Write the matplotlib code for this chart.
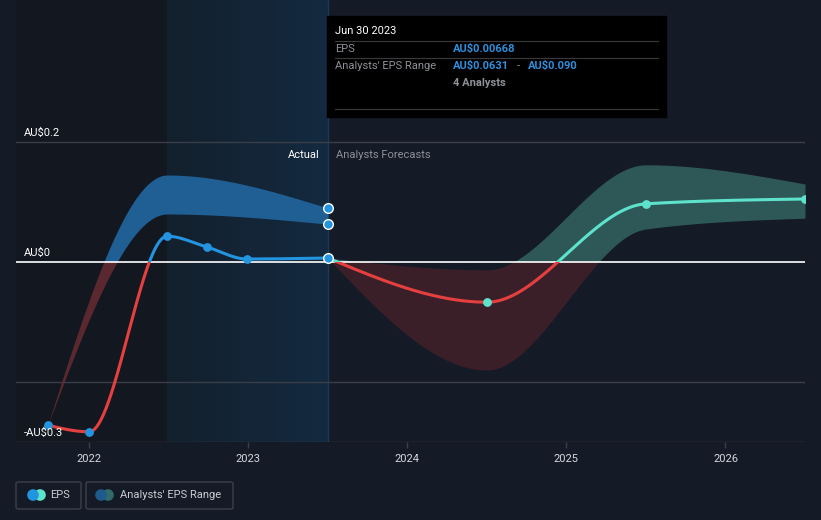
import numpy as np
import matplotlib
matplotlib.use("Agg")
import matplotlib.pyplot as plt
from matplotlib.patches import Rectangle, FancyBboxPatch, Circle

plt.rcParams['font.family'] = ['Roboto', 'DejaVu Sans']

# data (year fractions, AU$ per share)
past_x = [2021.74, 2022.0, 2022.49, 2022.74, 2022.99, 2023.5]
past_eps = [-0.272, -0.283, 0.043, 0.025, 0.005, 0.00668]

past_band_x = [2021.74, 2022.49, 2023.5]
past_band_low = [-0.272, 0.080, 0.0631]
past_band_high = [-0.272, 0.145, 0.090]

fc_x = [2023.5, 2024.5, 2025.5, 2026.5]
fc_eps = [0.00668, -0.067, 0.097, 0.105]
fc_low = [0.00668, -0.180, 0.055, 0.073]
fc_high = [0.00668, -0.013, 0.162, 0.130]

years = [2022, 2023, 2024, 2025, 2026]
ytick_vals = [0.2, 0.0, -0.3]
ytick_labels = ["AU$0.2", "AU$0", "-AU$0.3"]

BG = "#151b26"
BLUE = "#2394df"
RED = "#e5403f"
TEAL = "#5de2cb"
GRID = "#393e48"


def monotone(xs, ys, n=200):
    # d3 curveMonotoneX style hermite
    xs = np.asarray(xs, float)
    ys = np.asarray(ys, float)
    k = len(xs)
    h = np.diff(xs)
    s = np.diff(ys) / h
    m = np.zeros(k)
    for i in range(1, k - 1):
        p = (s[i - 1] * h[i] + s[i] * h[i - 1]) / (h[i - 1] + h[i])
        m[i] = (np.sign(s[i - 1]) + np.sign(s[i])) * min(abs(s[i - 1]), abs(s[i]), 0.5 * abs(p))
    if k > 2:
        m[0] = (3 * s[0] - m[1]) / 2
        m[-1] = (3 * s[-1] - m[-2]) / 2
    else:
        m[0] = m[-1] = s[0]
    out_x, out_y = [], []
    for i in range(k - 1):
        t = np.linspace(0, 1, n)
        h00 = 2 * t**3 - 3 * t**2 + 1
        h10 = t**3 - 2 * t**2 + t
        h01 = -2 * t**3 + 3 * t**2
        h11 = t**3 - t**2
        out_x.append(xs[i] + t * h[i])
        out_y.append(h00 * ys[i] + h10 * h[i] * m[i] + h01 * ys[i + 1] + h11 * h[i] * m[i + 1])
    return np.concatenate(out_x), np.concatenate(out_y)


fig = plt.figure(figsize=(8.21, 5.20), dpi=100, facecolor=BG)
ax = fig.add_axes([16 / 821, 78 / 520, 789 / 821, 442 / 520])
ax.set_facecolor(BG)
x0, x1 = 2021.54, 2026.50
y0, y1 = -0.3, 262 / 600
ax.set_xlim(x0, x1)
ax.set_ylim(y0, y1)
for sp in ax.spines.values():
    sp.set_visible(False)

# past shading
ax.axvspan(x0, 2022.49, color="#121720", zorder=0, lw=0)
grad = np.linspace(0, 1, 256).reshape(1, -1)
from matplotlib.colors import LinearSegmentedColormap
cm = LinearSegmentedColormap.from_list("g", ["#14202d", "#132a40"])
ax.imshow(grad, cmap=cm, aspect="auto", extent=[2022.49, 2023.5, y0, y1], zorder=0.5)
ax.plot([2023.5, 2023.5], [y0, y1], color="#1d3a55", lw=1, zorder=1)

# gridlines
for v in [0.2, -0.2, -0.3]:
    ax.axhline(v, color=GRID, lw=1, zorder=1)
ax.axhline(0, color="white", lw=1.2, zorder=4)

pos_clip = Rectangle((x0, 0), x1 - x0, 1, transform=ax.transData)
neg_clip = Rectangle((x0, -1), x1 - x0, 1, transform=ax.transData)


def clipped(artist, clip):
    artist.set_clip_path(clip)


# bands
bx, bl = monotone(past_band_x, past_band_low)
_, bh = monotone(past_band_x, past_band_high)
a = ax.fill_between(bx, bl, bh, color="#1f5f94", lw=0, zorder=2)
clipped(a, Rectangle((x0, 0), x1 - x0, 1, transform=ax.transData))
a = ax.fill_between(bx, bl, bh, color="#6a2c33", lw=0, zorder=2, alpha=0.85)
clipped(a, Rectangle((x0, -1), x1 - x0, 1, transform=ax.transData))

fx, fl = monotone(fc_x, fc_low)
_, fh = monotone(fc_x, fc_high)
a = ax.fill_between(fx, fl, fh, color="#2e5857", lw=0, zorder=2)
clipped(a, Rectangle((x0, 0), x1 - x0, 1, transform=ax.transData))
a = ax.fill_between(fx, fl, fh, color="#3b1f28", lw=0, zorder=2)
clipped(a, Rectangle((x0, -1), x1 - x0, 1, transform=ax.transData))

# lines
px, py = monotone(past_x, past_eps)
l, = ax.plot(px, py, color=BLUE, lw=2.2, zorder=5, solid_capstyle="round")
clipped(l, Rectangle((x0, 0), x1 - x0, 1, transform=ax.transData))
l, = ax.plot(px, py, color=RED, lw=2.2, zorder=5, solid_capstyle="round")
clipped(l, Rectangle((x0, -1), x1 - x0, 1, transform=ax.transData))

qx, qy = monotone(fc_x, fc_eps)
l, = ax.plot(qx, qy, color=TEAL, lw=2.2, zorder=5, solid_capstyle="round")
clipped(l, Rectangle((x0, 0), x1 - x0, 1, transform=ax.transData))
l, = ax.plot(qx, qy, color=RED, lw=2.2, zorder=5, solid_capstyle="round")
clipped(l, Rectangle((x0, -1), x1 - x0, 1, transform=ax.transData))

# markers
ax.scatter(past_x[:-1], past_eps[:-1], s=40, color=BLUE, zorder=6, lw=0)
ax.scatter(fc_x[1:], fc_eps[1:], s=40, color=TEAL, zorder=6, lw=0)
ax.scatter([past_x[-1]] * 3, [past_eps[-1], past_band_low[-1], past_band_high[-1]],
           s=48, color=BLUE, edgecolor="white", lw=1, zorder=7)

# axes ticks
ax.set_yticks([])
ax.set_xticks(years)
ax.set_xticklabels([str(y) for y in years])
ax.tick_params(axis="x", colors=GRID, length=4, width=1, labelcolor="#d5d8dd", labelsize=8, pad=5)
for v, lab in zip(ytick_vals, ytick_labels):
    ax.text(x0 + 0.05, v + 0.007, lab, color="white", fontsize=8, va="bottom", ha="left", zorder=8)

ax.text(2023.45, 0.178, "Actual", color="white", fontsize=8, ha="right", va="center", zorder=8)
ax.text(2023.55, 0.178, "Analysts Forecasts", color="#8a8f98", fontsize=8, ha="left", va="center", zorder=8)

# tooltip
W, H = 821, 520


def fx_(px_):
    return px_ / W


def fy_(py_):
    return 1 - py_ / H


fig.patches.append(Rectangle((fx_(327), fy_(117)), 339 / W, 101 / H, transform=fig.transFigure,
                             color="black", zorder=10))
for yy in [41, 58, 109]:
    fig.lines.append(plt.Line2D([fx_(335), fx_(658)], [fy_(yy), fy_(yy)], transform=fig.transFigure,
                                color="#3a3a3a", lw=0.8, zorder=11))
fig.text(fx_(335), fy_(31), "Jun 30 2023", color="white", fontsize=8, va="center", zorder=12)
fig.text(fx_(335), fy_(49), "EPS", color="#8e9197", fontsize=8, va="center", zorder=12)
fig.text(fx_(453), fy_(49), "AU$0.00668", color="#2f8fdc", fontsize=8, fontweight="bold", va="center", zorder=12)
fig.text(fx_(335), fy_(66), "Analysts' EPS Range", color="#8e9197", fontsize=8, va="center", zorder=12)
t1 = fig.text(fx_(453), fy_(66), "AU$0.0631", color="#2f8fdc", fontsize=8, fontweight="bold", va="center", zorder=12)
fig.text(fx_(517), fy_(66), "-", color="#8e9197", fontsize=8, va="center", zorder=12)
fig.text(fx_(516 + 12), fy_(66), "AU$0.090", color="#2f8fdc", fontsize=8, fontweight="bold", va="center", zorder=12)
fig.text(fx_(453), fy_(83), "4 Analysts", color="#8e9197", fontsize=8, fontweight="bold", va="center", zorder=12)

# legend
for (lx, lw_) in [(16, 65), (86, 147)]:
    fig.patches.append(FancyBboxPatch((fx_(lx), fy_(509)), lw_ / W, 27 / H, transform=fig.transFigure,
                                      boxstyle="round,pad=0,rounding_size=0.003",
                                      facecolor="none", edgecolor="#3b404a", lw=1, zorder=10))


def icon(cx, c1, c2):
    r = 5
    fig.patches.append(Circle((fx_(cx + 7), fy_(495)), r / W, transform=fig.transFigure, color=c2, zorder=11))
    fig.patches.append(Circle((fx_(cx), fy_(495)), r / W, transform=fig.transFigure, color=c1, zorder=12))


# circles in figure coords need equal aspect; draw via scatter in a helper axes instead
lax = fig.add_axes([0, 0, 1, 1], facecolor="none")
lax.set_xlim(0, W)
lax.set_ylim(H, 0)
lax.axis("off")
lax.scatter([40, 33], [495, 495], s=70, color=[TEAL, BLUE], zorder=12, lw=0)
lax.scatter([108, 101], [495, 495], s=70, color=["#2e6b6a", "#1f5a8c"], zorder=12, lw=0)
lax.text(50, 495, "EPS", color="#c9ccd1", fontsize=8, va="center")
lax.text(120, 495, "Analysts' EPS Range", color="#c9ccd1", fontsize=8, va="center")

fig.savefig("out.png", dpi=100, facecolor=BG)
